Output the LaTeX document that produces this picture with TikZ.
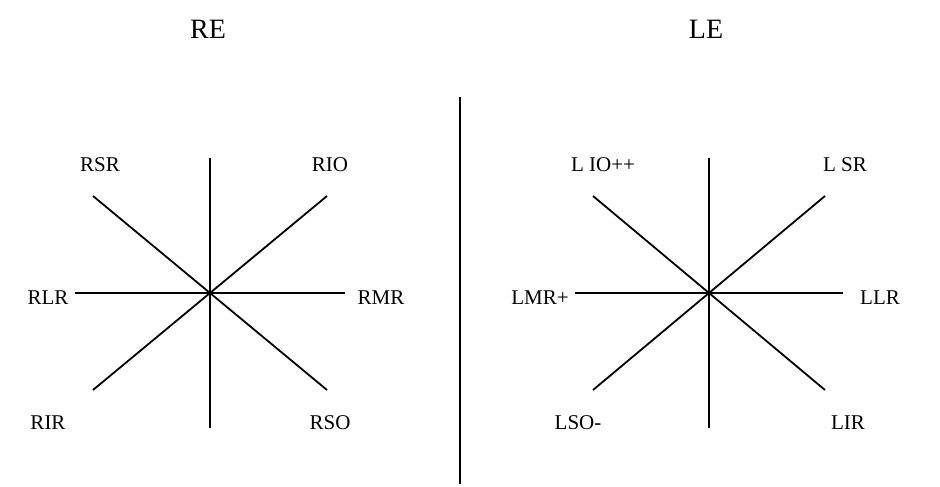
\documentclass[tikz,border=0pt]{standalone}
\usepackage{fontspec}
\setmainfont{Liberation Serif}
\usepackage{tikz}

\begin{document}
\begin{tikzpicture}[
    x=1pt, y=-1pt,
    eye/.style={font=\fontsize{28}{32}\selectfont},
    muscle/.style={font=\fontsize{21}{24}\selectfont, inner sep=0pt},
    axis/.style={line width=1.8pt},
    divider/.style={line width=2pt}
]
\useasboundingbox (0,0) rectangle (940,487);

% Headings
\node[eye] (re) at (208,29) {RE};
\node[eye] (le) at (706,29) {LE};

% Divider between the two eyes
\coordinate (div_top) at (460,97);
\coordinate (div_bot) at (460,484);
\draw[divider] (div_top) -- (div_bot);

% Left star - right eye
\coordinate (rc) at (210,293);
\draw[axis] ([yshift=-135pt]rc) -- ([yshift=135pt]rc);
\draw[axis] ([xshift=-135pt]rc) -- ([xshift=135pt]rc);
\draw[axis] ([shift={(-117,-97)}]rc) -- ([shift={(117,97)}]rc);
\draw[axis] ([shift={(-117,97)}]rc) -- ([shift={(117,-97)}]rc);

\node[muscle] (rsr) at (100,165) {RSR};
\node[muscle] (rio) at (330,165) {RIO};
\node[muscle] (rlr) at (48,298) {RLR};
\node[muscle] (rmr) at (381,298) {RMR};
\node[muscle] (rir) at (48,423) {RIR};
\node[muscle] (rso) at (330,423) {RSO};

% Right star - left eye
\coordinate (lc) at (709,293);
\draw[axis] ([yshift=-135pt]lc) -- ([yshift=135pt]lc);
\draw[axis] ([xshift=-134pt]lc) -- ([xshift=134pt]lc);
\draw[axis] ([shift={(-116,-97)}]lc) -- ([shift={(116,97)}]lc);
\draw[axis] ([shift={(-116,97)}]lc) -- ([shift={(116,-97)}]lc);

\node[muscle] (lio) at (603,165) {L IO++};
\node[muscle] (lsr) at (845,165) {L SR};
\node[muscle] (lmr) at (540,298) {LMR+};
\node[muscle] (llr) at (880,298) {LLR};
\node[muscle] (lso) at (578,423) {LSO-};
\node[muscle] (lir) at (848,423) {LIR};

\end{tikzpicture}
\end{document}
